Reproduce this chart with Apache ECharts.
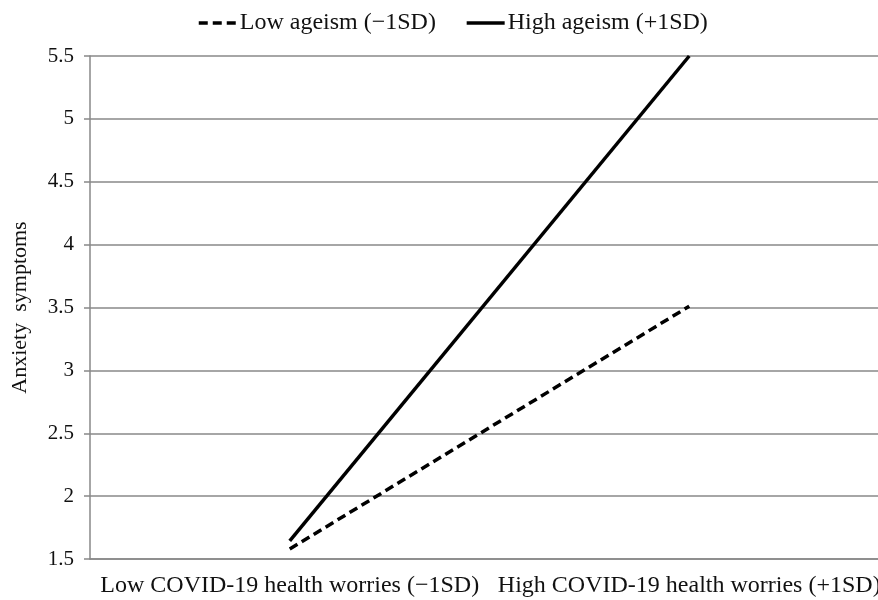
<!DOCTYPE html>
<html>
<head>
<meta charset="utf-8">
<script src="https://cdn.jsdelivr.net/npm/echarts@6/dist/echarts.min.js"></script>
<style>html,body{margin:0;padding:0;background:#fff}#c{width:878px;height:600px}</style>
</head>
<body>
<div id="c"></div>
<script>
const categories = ['Low COVID-19 health worries (\u22121SD)', 'High COVID-19 health worries (+1SD)'];
const lowAgeism = [1.58, 3.51];
const highAgeism = [1.645, 5.5];
const seriesNames = ['Low ageism (\u22121SD)', 'High ageism (+1SD)'];
const yTicks = { min: 1.5, max: 5.5, interval: 0.5 };
const yName = 'Anxiety  symptoms';

const font = 'Liberation Serif';
const chart = echarts.init(document.getElementById('c'), null, { renderer: 'canvas' });
chart.setOption({
  animation: false,
  backgroundColor: '#fff',
  textStyle: { fontFamily: font },
  legend: {
    top: 6, left: 192,
    itemWidth: 38, itemHeight: 14, itemGap: 29,
    itemStyle: { opacity: 0 },
    lineStyle: { width: 3.5 },
    textStyle: { fontFamily: font, fontSize: 24, color: '#111', padding: [0, 0, 0, -2] },
    data: seriesNames
  },
  grid: { left: 90, right: -11, top: 56, bottom: 41, containLabel: false, outerBoundsMode: 'none' },
  xAxis: {
    type: 'category', data: categories, boundaryGap: true,
    axisLine: { show: true, lineStyle: { color: '#888', width: 1.5 } },
    axisTick: { show: false },
    axisLabel: { fontFamily: font, fontSize: 24, color: '#111', margin: 15, interval: 0, hideOverlap: false }
  },
  yAxis: {
    type: 'value', min: yTicks.min, max: yTicks.max, interval: yTicks.interval,
    name: yName, nameLocation: 'middle', nameGap: 59, nameRotate: 90,
    nameTextStyle: { fontFamily: font, fontSize: 22, color: '#111' },
    axisLine: { show: true, lineStyle: { color: '#888', width: 1.5 } },
    axisTick: { show: true, length: 6, lineStyle: { color: '#888', width: 1.5 } },
    splitLine: { show: true, lineStyle: { color: '#888', width: 1.5 } },
    axisLabel: { fontFamily: font, fontSize: 21, color: '#111', margin: 16,
      formatter: v => String(v) }
  },
  series: [
    { name: seriesNames[0], type: 'line', data: lowAgeism, symbol: 'none',
      lineStyle: { color: '#000', width: 3.5, type: [9, 5] }, itemStyle: { color: '#000' } },
    { name: seriesNames[1], type: 'line', data: highAgeism, symbol: 'none',
      lineStyle: { color: '#000', width: 3.5, type: 'solid' }, itemStyle: { color: '#000' } }
  ]
});
</script>
</body>
</html>
